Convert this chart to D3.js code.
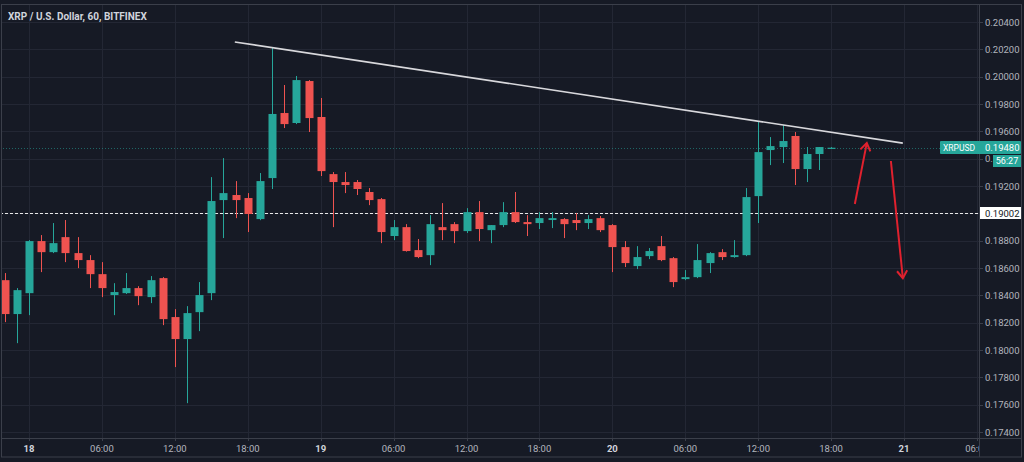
<!DOCTYPE html>
<html><head><meta charset="utf-8">
<script src="https://cdn.jsdelivr.net/npm/d3@7"></script>
<style>
html,body{margin:0;padding:0;background:#161a25;}
svg{display:block;}
</style></head><body>
<svg id="c" width="1024" height="462"></svg>
<script>
// ---------- DATA ----------
const title = "XRP / U.S. Dollar, 60, BITFINEX";
const symbol = "XRPUSD";
const firstCandle = "2020-05-17T22:00:00Z"; // hourly candles
const opens  = [0.18511,0.18263,0.18416,0.18797,0.18716,0.18826,0.18709,0.18658,0.18555,0.18402,0.18416,0.18453,0.18387,0.18526,0.18241,0.18080,0.18277,0.18416,0.19097,0.19134,0.19112,0.18958,0.19258,0.19734,0.19661,0.19968,0.19705,0.19287,0.19229,0.19229,0.19156,0.19104,0.18834,0.18899,0.18731,0.18694,0.18899,0.18921,0.18870,0.19009,0.18877,0.18914,0.19009,0.18936,0.18929,0.18951,0.18958,0.18951,0.18929,0.18965,0.18914,0.18753,0.18614,0.18687,0.18760,0.18672,0.18519,0.18533,0.18636,0.18716,0.18680,0.18694,0.19126,0.19463,0.19485,0.19566,0.19324,0.19434,0.19480];
const highs  = [0.18563,0.18453,0.18804,0.18841,0.18929,0.18951,0.18826,0.18694,0.18643,0.18489,0.18563,0.18467,0.18541,0.18533,0.18299,0.18321,0.18497,0.19265,0.19404,0.19236,0.19148,0.19295,0.20210,0.19939,0.20005,0.19975,0.19844,0.19302,0.19302,0.19244,0.19185,0.19112,0.18951,0.18921,0.18812,0.18987,0.19075,0.18936,0.19038,0.19090,0.18914,0.19082,0.19156,0.18987,0.19009,0.19009,0.18965,0.19002,0.18987,0.18980,0.18921,0.18797,0.18760,0.18746,0.18834,0.18680,0.18585,0.18775,0.18716,0.18738,0.18804,0.19185,0.19668,0.19558,0.19646,0.19595,0.19485,0.19485,0.19485];
const lows   = [0.18204,0.18050,0.18255,0.18570,0.18709,0.18643,0.18599,0.18453,0.18387,0.18255,0.18410,0.18328,0.18343,0.18182,0.17875,0.17611,0.18138,0.18365,0.18819,0.18965,0.18863,0.18950,0.19178,0.19624,0.19653,0.19595,0.19273,0.18899,0.19148,0.19134,0.19060,0.18782,0.18804,0.18720,0.18672,0.18621,0.18804,0.18782,0.18856,0.18797,0.18782,0.18899,0.18929,0.18834,0.18885,0.18892,0.18819,0.18877,0.18885,0.18863,0.18570,0.18607,0.18592,0.18665,0.18650,0.18460,0.18511,0.18526,0.18563,0.18658,0.18675,0.18687,0.18929,0.19353,0.19368,0.19207,0.19229,0.19317,0.19478];
const closes = [0.18263,0.18438,0.18797,0.18716,0.18782,0.18709,0.18658,0.18555,0.18453,0.18424,0.18453,0.18394,0.18511,0.18226,0.18080,0.18270,0.18402,0.19090,0.19148,0.19097,0.18995,0.19236,0.19727,0.19653,0.19975,0.19697,0.19309,0.19229,0.19207,0.19178,0.19097,0.18863,0.18899,0.18724,0.18680,0.18921,0.18877,0.18870,0.19009,0.18885,0.18914,0.19009,0.18936,0.18921,0.18965,0.18965,0.18921,0.18929,0.18958,0.18877,0.18753,0.18636,0.18680,0.18724,0.18658,0.18497,0.18533,0.18658,0.18709,0.18680,0.18694,0.19119,0.19448,0.19492,0.19529,0.19324,0.19434,0.19485,0.19480];
const priceTicks = [0.174,0.176,0.178,0.180,0.182,0.184,0.186,0.188,0.190,0.192,0.194,0.196,0.198,0.200,0.202,0.204];
const timeTicks = ["2020-05-18T00:00Z","2020-05-18T06:00Z","2020-05-18T12:00Z","2020-05-18T18:00Z","2020-05-19T00:00Z","2020-05-19T06:00Z","2020-05-19T12:00Z","2020-05-19T18:00Z","2020-05-20T00:00Z","2020-05-20T06:00Z","2020-05-20T12:00Z","2020-05-20T18:00Z","2020-05-21T00:00Z","2020-05-21T06:00Z"];
const lastPrice = 0.19480;
const countdown = "56:27";
const refLevel = 0.19002;
const trendTimes = ["2020-05-18T16:56Z","2020-05-20T23:54Z"];
const trendPrices = [0.20254,0.19514];
const arrowUpTimes = ["2020-05-20T19:57Z","2020-05-20T20:56Z"];
const arrowUpPrices = [0.19068,0.19514];
const arrowDownTimes = ["2020-05-20T22:55Z","2020-05-20T23:54Z"];
const arrowDownPrices = [0.19383,0.18526];
const viewStart = "2020-05-17T21:36:50Z", viewEnd = "2020-05-21T06:10Z";

// ---------- STYLE ----------
const BG="#161a25", GRID="#232734", UP="#26a69a", DOWN="#ef5350", TXT="#b2b5be", BORDER="#3b3f4a", ARROW="#e0212e";
const font = "Roboto, 'Open Sans', sans-serif";

const svg = d3.select("#c");
const plotR = 979, plotT = 4, plotB = 438;
const parse = s => new Date(s);
const x = d3.scaleUtc().domain([parse(viewStart), parse(viewEnd)]).range([0, plotR]);
const y = d3.scaleLinear().domain([0.174, 0.204]).range([432, 22]);

svg.append("rect").attr("width",1024).attr("height",462).attr("fill",BG);

const t0 = parse(firstCandle);
const candles = opens.map((o,i)=>({t:new Date(+t0 + i*3600e3), o, h:highs[i], l:lows[i], c:closes[i]}));

const defs = svg.append("defs");
defs.append("clipPath").attr("id","pc").append("rect").attr("x",2).attr("y",plotT).attr("width",plotR-2).attr("height",plotB-plotT);
const plot = svg.append("g").attr("clip-path","url(#pc)");

// grid
plot.selectAll(".hg").data(priceTicks).join("line")
  .attr("x1",0).attr("x2",plotR).attr("y1",d=>Math.round(y(d))+0.5).attr("y2",d=>Math.round(y(d))+0.5)
  .attr("stroke",GRID).attr("stroke-width",1);
plot.selectAll(".vg").data(timeTicks.map(parse)).join("line")
  .attr("y1",plotT).attr("y2",plotB).attr("x1",d=>Math.round(x(d))+0.5).attr("x2",d=>Math.round(x(d))+0.5)
  .attr("stroke",GRID).attr("stroke-width",1);

// last price line
plot.append("line").attr("x1",0).attr("x2",plotR)
  .attr("y1",Math.round(y(lastPrice))+0.5).attr("y2",Math.round(y(lastPrice))+0.5)
  .attr("stroke",UP).attr("stroke-opacity",0.55).attr("stroke-dasharray","1,2");

// ref level dashed line
plot.append("line").attr("x1",0).attr("x2",plotR)
  .attr("y1",Math.round(y(refLevel))+0.5).attr("y2",Math.round(y(refLevel))+0.5)
  .attr("stroke","#e8e8e8").attr("stroke-width",1.2).attr("stroke-dasharray","3,2");

// candles
const bw = 8;
const cg = plot.selectAll(".cd").data(candles).join("g");
cg.append("line")
  .attr("x1",d=>Math.round(x(d.t))+0.5).attr("x2",d=>Math.round(x(d.t))+0.5)
  .attr("y1",d=>y(d.h)).attr("y2",d=>y(d.l))
  .attr("stroke",d=>d.c>=d.o?UP:DOWN).attr("stroke-width",1);
cg.append("rect")
  .attr("x",d=>Math.round(x(d.t))+0.5-bw/2)
  .attr("y",d=>y(Math.max(d.o,d.c)))
  .attr("width",bw)
  .attr("height",d=>Math.max(1.2, Math.abs(y(d.o)-y(d.c))))
  .attr("fill",d=>d.c>=d.o?UP:DOWN);

// trendline
plot.append("line")
  .attr("x1",x(parse(trendTimes[0]))).attr("y1",y(trendPrices[0]))
  .attr("x2",x(parse(trendTimes[1]))).attr("y2",y(trendPrices[1]))
  .attr("stroke","#d8d8dc").attr("stroke-width",1.6);

// arrows
function arrow(ts, ps){
  const x1=x(parse(ts[0])), y1=y(ps[0]), x2=x(parse(ts[1])), y2=y(ps[1]);
  plot.append("line").attr("x1",x1).attr("y1",y1).attr("x2",x2).attr("y2",y2)
    .attr("stroke",ARROW).attr("stroke-width",2);
  const a = Math.atan2(y2-y1, x2-x1), L=9, w=0.6;
  const p1=[x2-L*Math.cos(a-w), y2-L*Math.sin(a-w)], p2=[x2-L*Math.cos(a+w), y2-L*Math.sin(a+w)];
  plot.append("path").attr("d",`M${p1}L${x2},${y2}L${p2}`).attr("fill","none")
    .attr("stroke",ARROW).attr("stroke-width",2);
}
arrow(arrowUpTimes, arrowUpPrices);
arrow(arrowDownTimes, arrowDownPrices);

// title
svg.append("text").attr("x",8).attr("y",20).text(title)
  .attr("font-family",font).attr("font-size",10).attr("font-weight",700).attr("fill","#d1d4dc");

// axes separators / frame
svg.append("line").attr("x1",plotR+0.5).attr("x2",plotR+0.5).attr("y1",plotT).attr("y2",457).attr("stroke",BORDER);
svg.append("line").attr("x1",2).attr("x2",1022).attr("y1",plotB+0.5).attr("y2",plotB+0.5).attr("stroke",BORDER);
svg.append("rect").attr("x",1.5).attr("y",4.5).attr("width",1020).attr("height",452.5).attr("fill","none").attr("stroke",BORDER);

// price axis
const ly = Math.round(y(lastPrice));
defs.append("clipPath").attr("id","ac").append("path")
  .attr("d",`M${plotR},0H1024V${ly+7}H993V${ly+19}H1024V462H${plotR}Z`);
const ya = svg.append("g");
ya.selectAll("line").data(priceTicks).join("line")
  .attr("x1",plotR).attr("x2",plotR+4).attr("y1",d=>Math.round(y(d))+0.5).attr("y2",d=>Math.round(y(d))+0.5)
  .attr("stroke",BORDER);
ya.append("g").attr("clip-path","url(#ac)").selectAll("text").data(priceTicks).join("text")
  .attr("x",985).attr("y",d=>y(d)+3.5).text(d=>d3.format(".5f")(d))
  .attr("font-family",font).attr("font-size",9.5).attr("fill",TXT);

// time axis (clipped at price axis)
defs.append("clipPath").attr("id","xc").append("rect").attr("x",2).attr("y",plotB).attr("width",plotR-2).attr("height",20);
const xa = svg.append("g").attr("clip-path","url(#xc)");
const fmt = d => d.getUTCHours()===0 ? String(d.getUTCDate()) : d3.utcFormat("%H:%M")(d);
xa.selectAll("line").data(timeTicks.map(parse)).join("line")
  .attr("x1",d=>Math.round(x(d))+0.5).attr("x2",d=>Math.round(x(d))+0.5).attr("y1",plotB).attr("y2",plotB+3)
  .attr("stroke",BORDER);
xa.selectAll("text").data(timeTicks.map(parse)).join("text")
  .attr("x",d=>x(d)).attr("y",452).attr("text-anchor","middle").text(fmt)
  .attr("font-family",font).attr("font-size",9.5)
  .attr("font-weight",d=>d.getUTCHours()===0?700:400)
  .attr("fill",d=>d.getUTCHours()===0?"#d1d4dc":TXT);

// price labels
svg.append("rect").attr("x",940).attr("y",ly-7).attr("width",81).attr("height",13).attr("fill",UP).attr("rx",1);
svg.append("text").attr("x",959).attr("y",ly+3).attr("text-anchor","middle").text(symbol)
  .attr("font-family",font).attr("font-size",8.5).attr("fill","#ffffff");
svg.append("text").attr("x",985).attr("y",ly+3).text(d3.format(".5f")(lastPrice))
  .attr("font-family",font).attr("font-size",9.5).attr("fill","#ffffff");
svg.append("rect").attr("x",993).attr("y",ly+7).attr("width",28).attr("height",12).attr("fill",UP);
svg.append("text").attr("x",1007).attr("y",ly+16).attr("text-anchor","middle").text(countdown)
  .attr("font-family",font).attr("font-size",9).attr("fill","#ffffff");

const ry = Math.round(y(refLevel));
svg.append("rect").attr("x",980).attr("y",ry-6).attr("width",41).attr("height",12).attr("fill","#ffffff");
svg.append("text").attr("x",985).attr("y",ry+3.5).text(d3.format(".5f")(refLevel))
  .attr("font-family",font).attr("font-size",9.5).attr("fill","#131722");
</script>
</body></html>
